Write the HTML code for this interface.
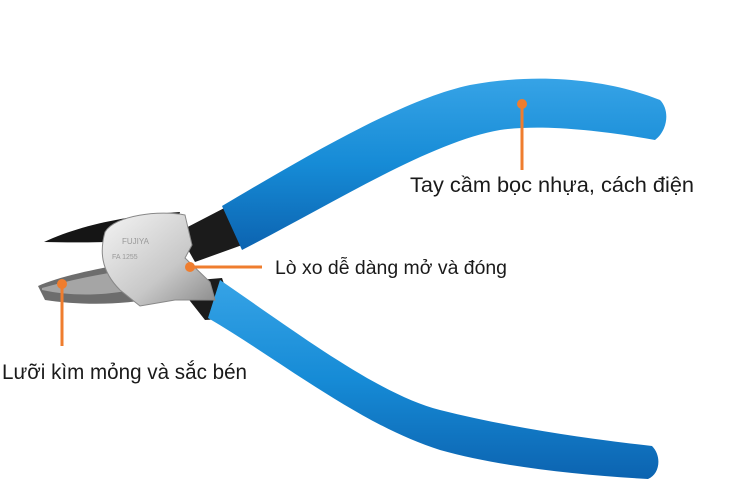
<!DOCTYPE html>
<html><head><meta charset="utf-8"><style>
body{margin:0;width:750px;height:500px;background:#fff;overflow:hidden}
svg{position:absolute;left:0;top:0}
text{font-family:"Liberation Sans","DejaVu Sans",sans-serif;fill:#1a1a1a}
</style></head><body>
<svg width="750" height="500" viewBox="0 0 750 500">
<defs>
<linearGradient id="bl" x1="0" y1="0" x2="0" y2="1"><stop offset="0" stop-color="#36a3e6"/><stop offset="0.5" stop-color="#168bd6"/><stop offset="1" stop-color="#0c63b0"/></linearGradient>
<linearGradient id="sv" x1="0" y1="0" x2="1" y2="1"><stop offset="0" stop-color="#f4f4f4"/><stop offset="0.6" stop-color="#c8c8c8"/><stop offset="1" stop-color="#8a8a8a"/></linearGradient>
</defs>
<path d="M178,232 L232,204 L245,244 L195,262 Z" fill="#1b1b1b"/>
<path d="M175,282 L222,278 L236,318 L205,320 Z" fill="#1b1b1b"/>
<path d="M222,206 C300,160 400,100 470,85 C540,72 610,80 660,100 C670,110 668,130 655,140 C600,130 540,124 500,130 C430,142 330,205 242,250 Z" fill="url(#bl)"/>
<path d="M220,280 C300,335 380,395 440,410 C520,430 600,440 652,446 C662,456 660,474 648,479 C580,475 500,467 440,450 C360,425 280,360 208,318 Z" fill="url(#bl)"/>
<path d="M44,242 C80,225 130,215 180,212 L172,240 C130,242 80,243 44,242 Z" fill="#151515"/>
<path d="M38,286 C60,276 100,268 135,262 L145,300 C110,306 70,304 45,300 Z" fill="#6d6d6d"/>
<path d="M42,288 C70,280 100,274 128,270 L132,290 C100,296 70,296 42,290 Z" fill="#a5a5a5"/>
<path d="M105,232 C115,215 160,210 185,215 L192,245 L185,258 L210,282 L215,300 L175,300 L140,306 L120,290 C100,270 100,250 105,232 Z" fill="url(#sv)" stroke="#888" stroke-width="1"/>
<text x="122" y="244" font-size="8" style="fill:#999">FUJIYA</text>
<text x="112" y="259" font-size="7" style="fill:#999">FA 1255</text>
<g stroke="#ef7d2e" stroke-width="3">
<line x1="522" y1="104" x2="522" y2="170"/>
<line x1="190" y1="267" x2="262" y2="267"/>
<line x1="62" y1="284" x2="62" y2="346"/>
</g>
<circle cx="522" cy="104" r="5" fill="#ef7d2e"/>
<circle cx="190" cy="267" r="5" fill="#ef7d2e"/>
<circle cx="62" cy="284" r="5" fill="#ef7d2e"/>
<text x="410" y="192" font-size="21" textLength="284" lengthAdjust="spacingAndGlyphs">Tay cầm bọc nhựa, cách điện</text>
<text x="275" y="274" font-size="19" textLength="232" lengthAdjust="spacingAndGlyphs">Lò xo dễ dàng mở và đóng</text>
<text x="2" y="379" font-size="21" textLength="245" lengthAdjust="spacingAndGlyphs">Lưỡi kìm mỏng và sắc bén</text>
</svg>
</body></html>
